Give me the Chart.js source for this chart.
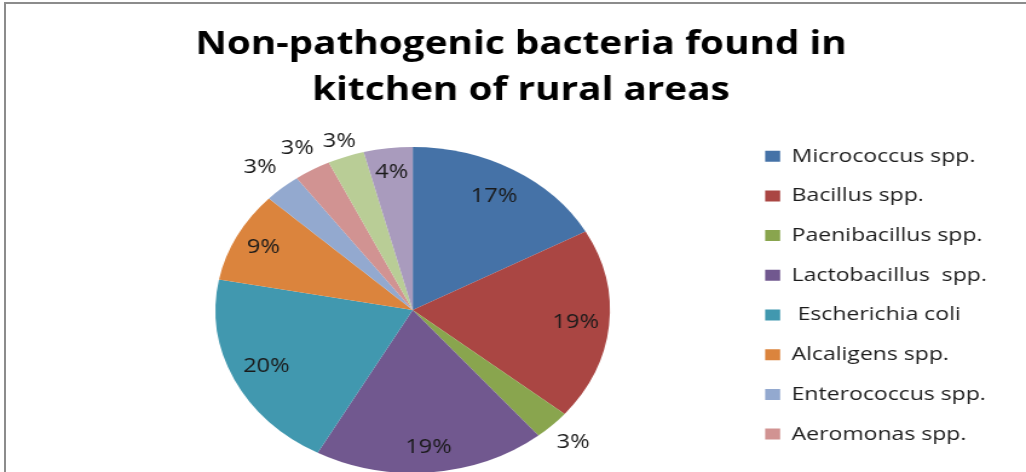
<!DOCTYPE html>
<html>
<head>
<meta charset="utf-8">
<title>Non-pathogenic bacteria found in kitchen of rural areas</title>
<script src="https://cdn.jsdelivr.net/npm/chart.js@4.4.1/dist/chart.umd.min.js"></script>
<style>
  html, body { margin: 0; padding: 0; background: #fff; overflow: hidden; width: 1026px; height: 472px; }
  #frame {
    position: absolute; left: 4px; top: 2px; width: 1040px; height: 490px;
    border-top: 2px solid #8c8c8c; border-left: 2px solid #8c8c8c;
  }
  #chart { position: absolute; left: 0; top: 0; }
</style>
</head>
<body>
<div id="frame"></div>
<!-- drawn at 848 px wide and shown 1026 px wide, giving the wide, flattened look of the sheet chart -->
<canvas id="chart" width="848" height="500" style="width:1026px;height:500px"></canvas>
<script>
// Chart text and values
const titleLines = ['Non-pathogenic bacteria found in', 'kitchen of rural areas'];
const categories = [
  'Micrococcus spp.',
  'Bacillus spp.',
  'Paenibacillus spp.',
  'Lactobacillus  spp.',
  ' Escherichia coli',
  'Alcaligens spp.',
  'Enterococcus spp.',
  'Aeromonas spp.',
  'Other genus A',
  'Other genus B'
];
const percentages = [17, 19, 3, 19, 20, 9, 3, 3, 3, 4];

// Styling
const sliceColors = [
  '#4572A7', '#AA4643', '#89A54E', '#71588F', '#4198AF',
  '#DB843D', '#93A9CF', '#D19392', '#B9CD96', '#A99BBD'
];
// distance of each percentage label from the centre, as a share of the radius
const labelRadius = [0.81, 0.83, 1.15, 0.85, 0.82, 0.85, 1.17, 1.15, 1.10, 0.85];
// the legend only has room for the first eight entries
const legendEntriesShown = 8;

// percentage labels on / beside each slice
const sliceLabels = {
  id: 'sliceLabels',
  afterDatasetsDraw(chart) {
    const ctx = chart.ctx;
    const meta = chart.getDatasetMeta(0);
    const data = chart.data.datasets[0].data;
    const total = data.reduce((a, b) => a + b, 0);
    ctx.save();
    ctx.font = '19.5px "Open Sans"';
    ctx.fillStyle = '#1a1a1a';
    ctx.textAlign = 'center';
    ctx.textBaseline = 'middle';
    meta.data.forEach((arc, i) => {
      const p = arc.getProps(['x', 'y', 'startAngle', 'endAngle', 'outerRadius'], true);
      const mid = (p.startAngle + p.endAngle) / 2;
      const r = p.outerRadius * labelRadius[i];
      const text = Math.round(data[i] / total * 100) + '%';
      ctx.fillText(text, p.x + Math.cos(mid) * r, p.y + Math.sin(mid) * r);
    });
    ctx.restore();
  }
};

// the legend keeps a narrow layout slot but its text may run on to the canvas edge
const legendOverflow = {
  id: 'legendOverflow',
  afterLayout(chart) {
    const lg = chart.legend;
    if (!lg) return;
    lg.left -= 1.5;
    lg.right = chart.width;
    lg.width = lg.right - lg.left;
  }
};

new Chart(document.getElementById('chart'), {
  type: 'pie',
  data: {
    labels: categories,
    datasets: [{
      data: percentages,
      backgroundColor: sliceColors,
      borderWidth: 0,
      radius: 163
    }]
  },
  options: {
    responsive: false,
    animation: false,
    layout: { padding: { left: 69, right: 55.8, top: 0, bottom: 6 } },
    plugins: {
      title: {
        display: true,
        text: titleLines,
        color: '#000',
        font: { family: 'Open Sans', size: 32, weight: 'bold', lineHeight: '46px' },
        padding: { top: 22, bottom: 12 }
      },
      legend: {
        position: 'right',
        align: 'start',
        fullSize: false,
        maxWidth: 179,
        labels: {
          boxWidth: 12.4,
          boxHeight: 11,
          padding: 20.7,
          color: '#1c1c1c',
          font: { family: 'Open Sans', size: 19 },
          filter: (item) => item.index < legendEntriesShown
        }
      },
      tooltip: { enabled: false }
    }
  },
  plugins: [sliceLabels, legendOverflow]
});
</script>
</body>
</html>
